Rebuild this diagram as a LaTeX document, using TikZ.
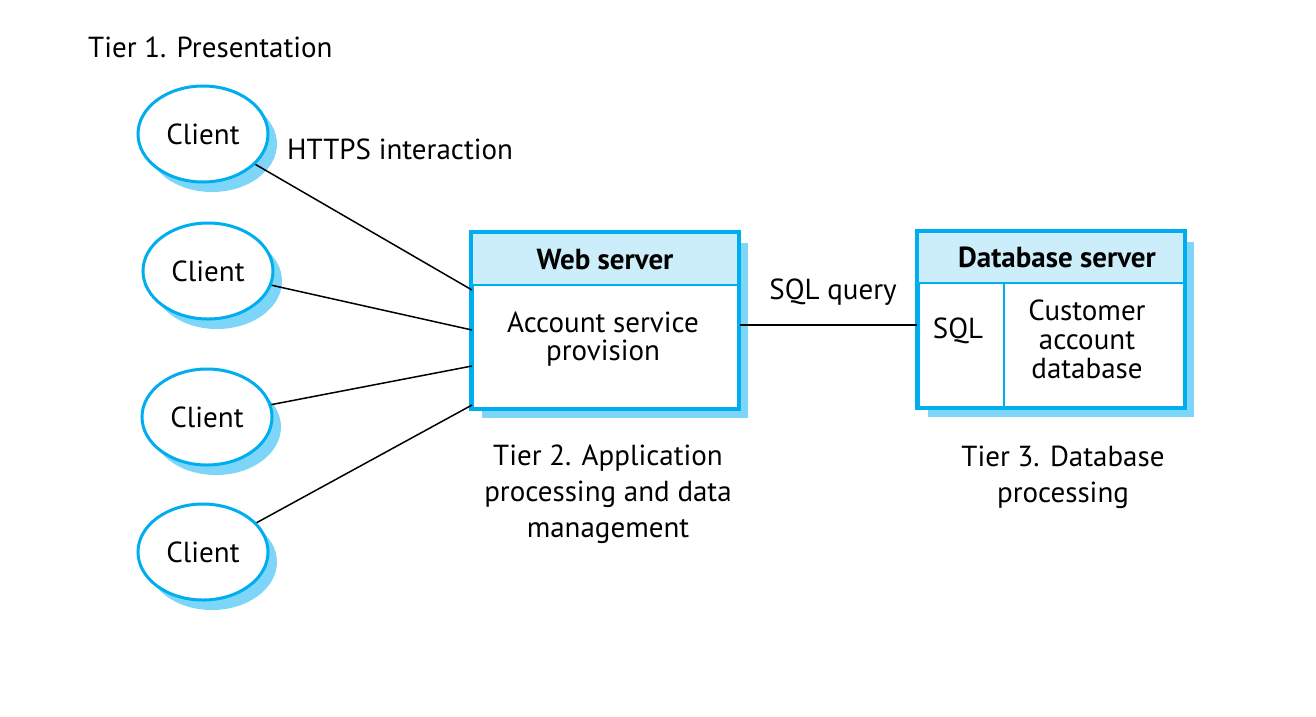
\documentclass[tikz,border=0pt]{standalone}
\usepackage{fontspec}
\setmainfont{PT Sans}
\usetikzlibrary{shapes.geometric,shadows,calc}
\definecolor{edgec}{RGB}{0,174,239}
\definecolor{shadec}{RGB}{125,214,248}
\definecolor{headc}{RGB}{204,238,250}
\tikzset{
  txt/.style={font=\fontsize{29}{36}\selectfont, inner sep=0pt, align=center},
  boldtxt/.style={txt, font=\fontsize{29}{36}\selectfont\bfseries},
  client/.style={ellipse, draw=edgec, line width=3pt, fill=white,
    minimum width=130, minimum height=96, inner sep=0pt,
    font=\fontsize{29}{36}\selectfont,
    drop shadow={shadow xshift=9pt, shadow yshift=-10pt, fill=shadec, opacity=1}},
  box/.style={rectangle, draw=edgec, line width=3pt, fill=white, inner sep=0pt,
    drop shadow={shadow xshift=10pt, shadow yshift=-10pt, fill=shadec, opacity=1}},
  header/.style={rectangle, draw=edgec, line width=2pt, fill=headc, inner sep=0pt},
  link/.style={line width=1.5pt, black},
}
\begin{document}
\begin{tikzpicture}[x=1pt,y=-1pt]
\useasboundingbox (0,0) rectangle (1316,716);

% clients
\node[client] (c1) at (203,134) {Client};
\node[client] (c2) at (208,271) {Client};
\node[client] (c3) at (207,417) {Client};
\node[client] (c4) at (203,552) {Client};

% web server
\node[box, minimum width=266, minimum height=175] (ws) at (605,320.5) {};
\node[header, minimum width=266, minimum height=52, anchor=north] (wsh) at (ws.north) {};
\draw[edgec, line width=3pt] (ws.north west) rectangle (ws.south east);
\node[boldtxt] (wst) at (605,260) {Web server};
\node[txt] (wsb) at (603,339) {Account service\\[-8pt]provision};

% database server
\node[box, minimum width=266, minimum height=175] (db) at (1051,319.5) {};
\node[header, minimum width=266, minimum height=51, anchor=north] (dbh) at (db.north) {};
\draw[edgec, line width=3pt] (db.north west) rectangle (db.south east);
\draw[edgec, line width=2pt] (1004,283) -- (1004,407);
\node[boldtxt] (dbt) at (1057,257) {Database server};
\node[txt] (sql) at (958,331) {SQL};
\node[txt] (cad) at (1087,339) {Customer\\[-7pt]account\\[-7pt]database};

% connectors
\coordinate (p1) at (472,290);
\coordinate (p2) at (472,330);
\coordinate (p3) at (472,366);
\coordinate (p4) at (472,405);
\draw[link] (c1) -- (p1);
\draw[link] (c2) -- (p2);
\draw[link] (c3) -- (p3);
\draw[link] (c4) -- (p4);
\draw[link] (ws.east |- 0,325) coordinate (q1) -- (db.west |- q1);

% labels
\node[txt, anchor=west] (t1) at (88,47) {Tier 1. Presentation};
\node[txt, anchor=west] (https) at (287,149) {HTTPS interaction};
\node[txt] (sqlq) at (833,292) {SQL query};
\node[txt] (t2) at (608,494) {Tier 2. Application\\processing and data\\management};
\node[txt] (t3) at (1063,477) {Tier 3. Database\\processing};
\end{tikzpicture}
\end{document}
